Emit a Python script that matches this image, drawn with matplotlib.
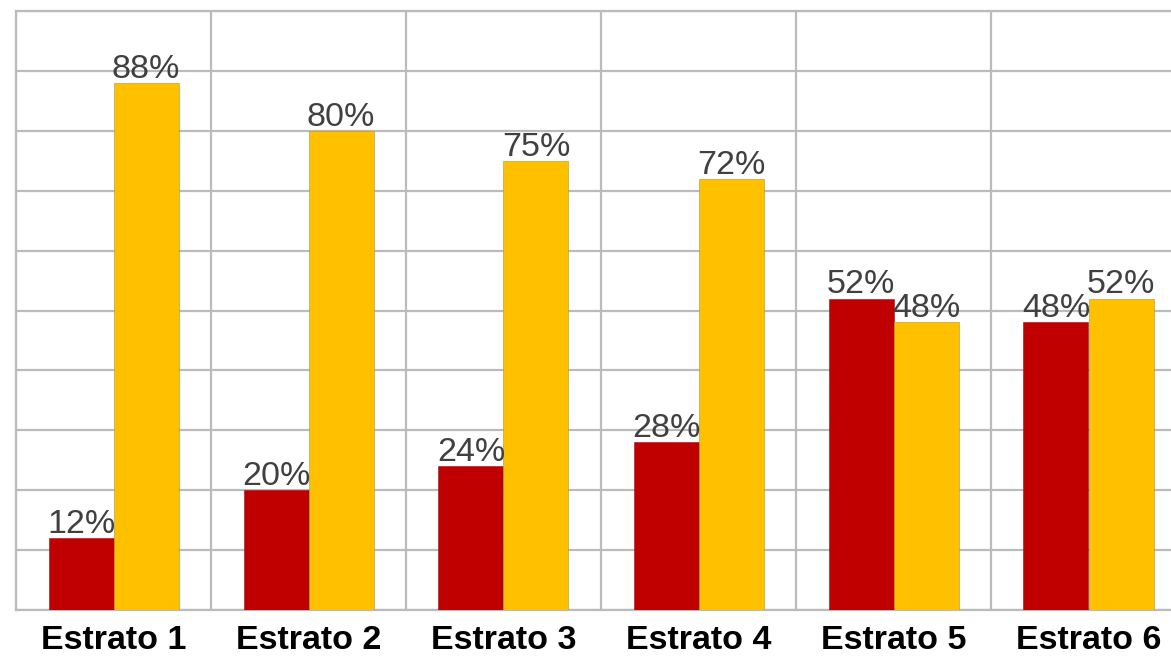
import numpy as np
import matplotlib
matplotlib.use('Agg')
import matplotlib.pyplot as plt

categories = ['Estrato 1', 'Estrato 2', 'Estrato 3', 'Estrato 4', 'Estrato 5', 'Estrato 6']
serie_roja = [12, 20, 24, 28, 52, 48]
serie_amarilla = [88, 80, 75, 72, 48, 52]

plt.rcParams['font.family'] = ['Liberation Sans', 'DejaVu Sans']

fig = plt.figure(figsize=(11.71, 6.6), dpi=100)
ax = fig.add_axes([16/1171, 50/660, 1170/1171, 599/660])

x = np.arange(len(categories))
w = 1/3
b1 = ax.bar(x - w/2, serie_roja, w, color='#C00000', edgecolor='#8a1a1a', linewidth=0.4, zorder=3)
b2 = ax.bar(x + w/2, serie_amarilla, w, color='#FFC000', edgecolor='#b09040', linewidth=0.4, zorder=3)

for bars, vals in ((b1, serie_roja), (b2, serie_amarilla)):
    for r, v in zip(bars, vals):
        ax.text(r.get_x() + r.get_width()/2, v - 0.3, f'{v}%', ha='center', va='bottom',
                fontsize=24.5, color='#404040', zorder=4)

ax.set_xlim(-0.5, len(categories) - 0.5)
ax.set_ylim(0, 100)
ax.set_yticks(np.arange(0, 101, 10))
ax.set_yticklabels([])
ax.set_xticks(x)
ax.set_xticklabels(categories, fontsize=24.5, fontweight='bold', color='black')
ax.set_xticks(np.arange(-0.5, len(categories), 1), minor=True)
ax.tick_params(axis='both', which='both', length=0)
ax.tick_params(axis='x', pad=11)
ax.grid(axis='y', which='major', color='#BBBBBB', linewidth=1.6, zorder=0)
ax.grid(axis='x', which='minor', color='#BBBBBB', linewidth=1.6, zorder=0)
ax.grid(axis='x', which='major', visible=False)
for s in ax.spines.values():
    s.set_color('#BBBBBB')
    s.set_linewidth(1.6)

fig.savefig('out.png', dpi=100)
